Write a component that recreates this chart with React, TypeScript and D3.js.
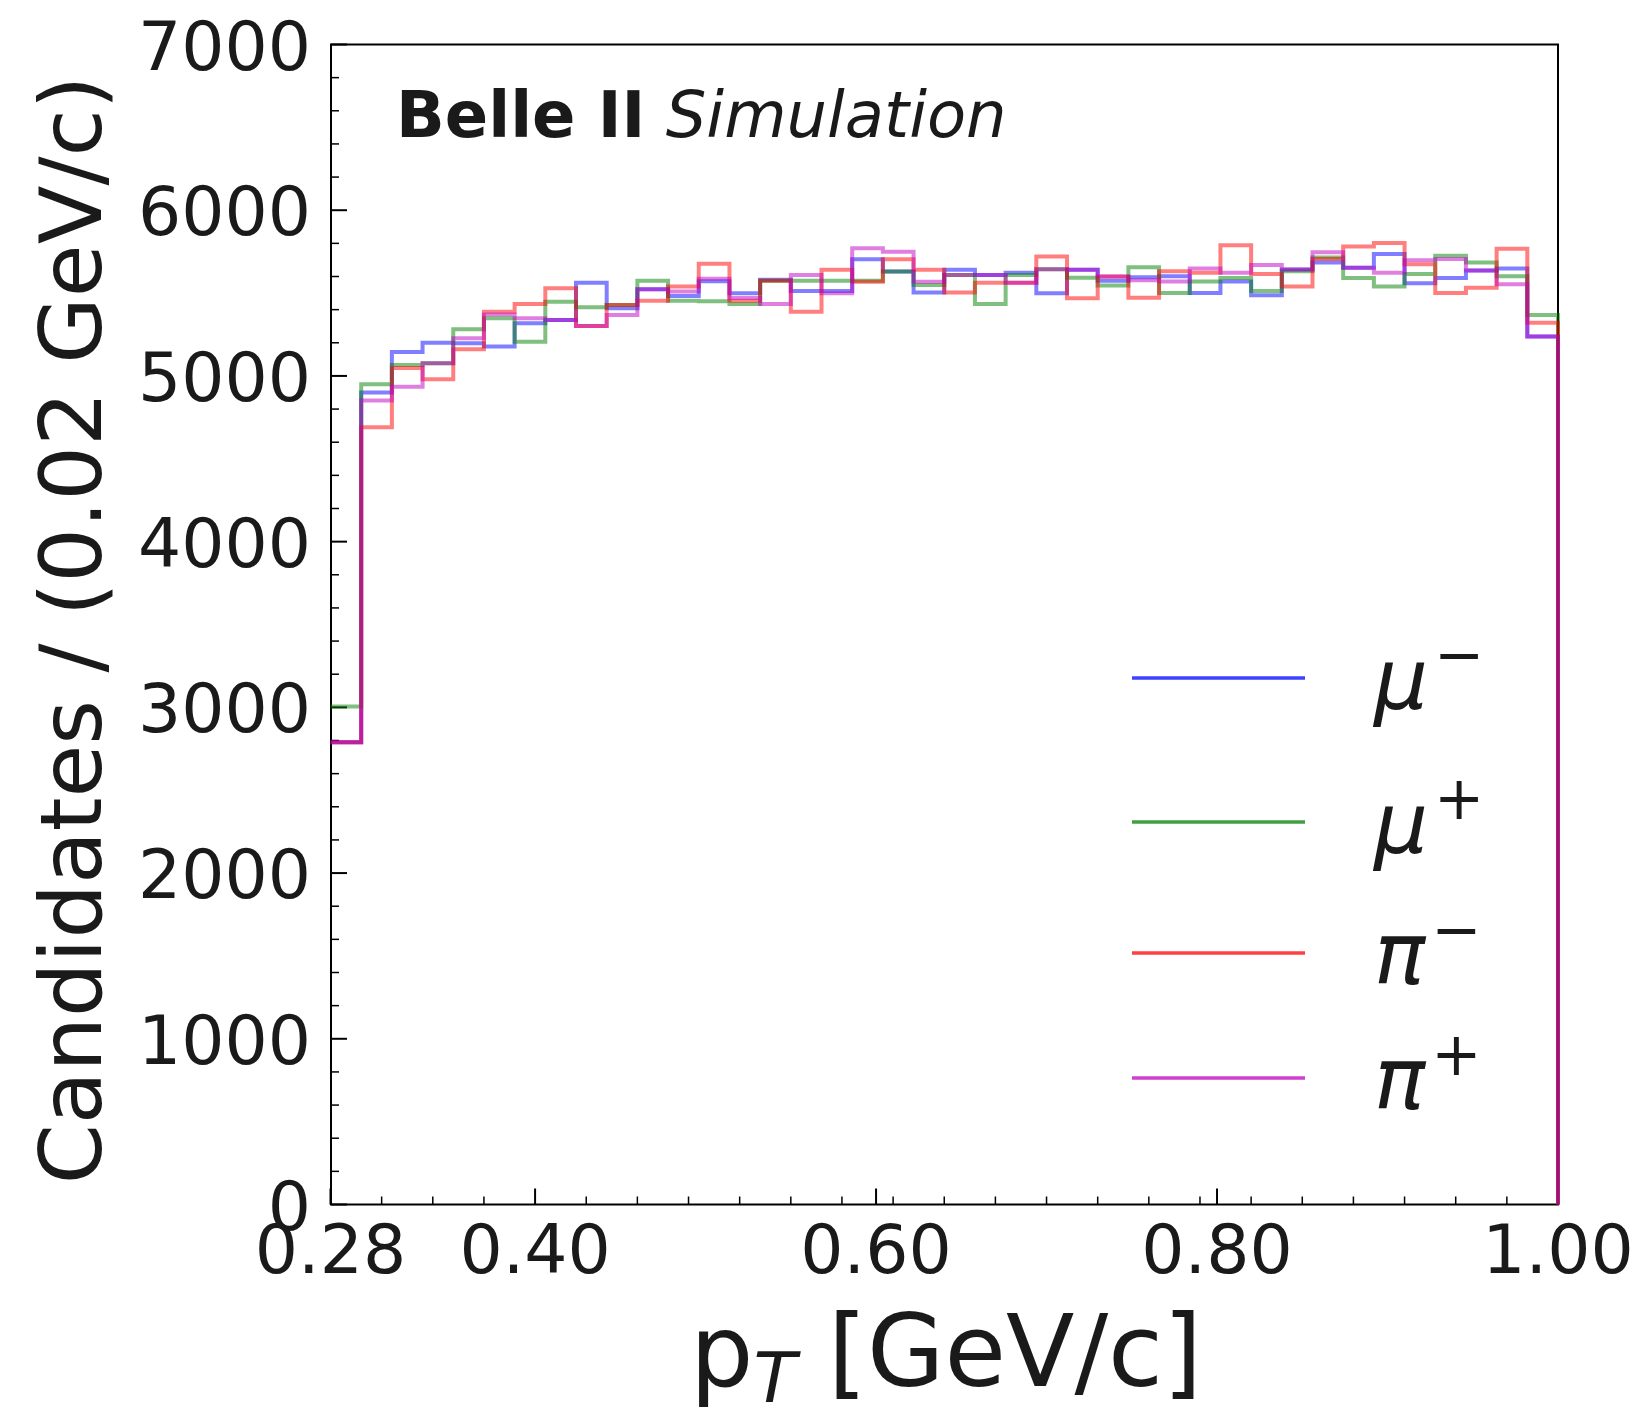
import React from "react";
import * as d3 from "d3";

// ---------- data ----------
const BIN_LOW = 0.28;
const BIN_WIDTH = 0.018;
const X_MAX = 1.0;

const X_TICKS = [0.28, 0.4, 0.6, 0.8, 1.0];
const X_TICK_LABELS = ["0.28", "0.40", "0.60", "0.80", "1.00"];
const X_MINOR_STEP = 0.03;
const Y_TICKS = [0, 1000, 2000, 3000, 4000, 5000, 6000, 7000];
const Y_MINOR_STEP = 200;

const muMinus = [2790, 4900, 5145, 5200, 5197, 5177, 5318, 5338, 5563, 5408, 5523, 5483, 5571, 5499, 5580, 5513, 5513, 5704, 5630, 5503, 5640, 5609, 5623, 5499, 5640, 5575, 5595, 5601, 5501, 5570, 5487, 5642, 5684, 5653, 5736, 5559, 5591, 5636, 5649, 5238];
const muPlus = [3005, 4950, 5066, 5076, 5281, 5348, 5207, 5448, 5414, 5428, 5575, 5454, 5451, 5434, 5575, 5575, 5575, 5575, 5630, 5549, 5609, 5434, 5609, 5644, 5593, 5545, 5656, 5501, 5570, 5591, 5512, 5632, 5715, 5591, 5539, 5615, 5725, 5684, 5601, 5367];
const piMinus = [2790, 4690, 5048, 4980, 5161, 5388, 5434, 5529, 5302, 5428, 5454, 5539, 5677, 5454, 5575, 5388, 5640, 5569, 5704, 5640, 5503, 5563, 5563, 5720, 5469, 5600, 5472, 5632, 5622, 5788, 5615, 5539, 5705, 5781, 5802, 5674, 5501, 5532, 5767, 5321];
const piPlus = [2790, 4851, 4935, 5076, 5227, 5370, 5348, 5338, 5302, 5368, 5523, 5509, 5586, 5470, 5434, 5609, 5499, 5770, 5750, 5569, 5609, 5609, 5563, 5644, 5640, 5600, 5577, 5570, 5649, 5622, 5669, 5642, 5746, 5653, 5622, 5698, 5705, 5636, 5553, 5238];

const SERIES_NAMES = ["μ", "μ", "π", "π"];
const SERIES_SIGNS = ["−", "+", "−", "+"];
const SERIES_COLORS = ["#0000ff", "#008000", "#ff0000", "#bf00bf"];
const SERIES_VALUES = [muMinus, muPlus, piMinus, piPlus];

// ---------- layout ----------
const W = 1639;
const H = 1409;
const M = { left: 331, right: 1558, top: 44.5, bottom: 1204.5 };
const FONT = "'DejaVu Sans', sans-serif";
const LEGEND_ROWS = [678, 822, 953, 1078];

export default function App() {
  const x = d3.scaleLinear().domain([BIN_LOW, X_MAX]).range([M.left - 0.5, M.right]);
  const y = d3.scaleLinear().domain([0, 7000]).range([M.bottom, M.top]);

  const xMinor = d3.range(BIN_LOW, X_MAX + 1e-9, X_MINOR_STEP).filter(
    (v) => !X_TICKS.some((t) => Math.abs(t - v) < 1e-6)
  );
  const yMinor = d3.range(0, 7000, Y_MINOR_STEP).filter((v) => v % 1000 !== 0);

  const stepPath = (vals: number[]) => {
    const pts: [number, number][] = vals.map((v, i) => [BIN_LOW + i * BIN_WIDTH, v]);
    pts.push([X_MAX, vals[vals.length - 1]]);
    pts.push([X_MAX, 0]);
    const line = d3
      .line<[number, number]>()
      .x((d) => x(d[0]))
      .y((d) => y(d[1]))
      .curve(d3.curveStepAfter);
    return line(pts) || "";
  };

  return (
    <div style={{ position: "absolute", left: 0, top: 0 }}>
      <svg width={W} height={H} style={{ display: "block", background: "#fff" }}>
        <rect x={0} y={0} width={W} height={H} fill="#fff" />
        {/* frame */}
        <rect
          x={M.left}
          y={M.top}
          width={M.right - M.left}
          height={M.bottom - M.top}
          fill="none"
          stroke="#000"
          strokeWidth={2}
        />
        {/* y ticks */}
        {Y_TICKS.map((t) => (
          <g key={"yt" + t}>
            <line x1={M.left} x2={M.left + 16} y1={y(t)} y2={y(t)} stroke="#000" strokeWidth={2} />
            <text
              x={311}
              y={y(t) + 25}
              textAnchor="end"
              fontFamily={FONT}
              fontSize={68}
              fill="#1a1a1a"
            >
              {t}
            </text>
          </g>
        ))}
        {yMinor.map((t) => (
          <line key={"ym" + t} x1={M.left} x2={M.left + 8} y1={y(t)} y2={y(t)} stroke="#000" strokeWidth={1.5} />
        ))}
        {/* x ticks */}
        {X_TICKS.map((t, i) => (
          <g key={"xt" + t}>
            <line x1={x(t)} x2={x(t)} y1={M.bottom} y2={M.bottom - 16} stroke="#000" strokeWidth={2} />
            <text
              x={x(t)}
              y={1273}
              textAnchor="middle"
              fontFamily={FONT}
              fontSize={68}
              fill="#1a1a1a"
            >
              {X_TICK_LABELS[i]}
            </text>
          </g>
        ))}
        {xMinor.map((t) => (
          <line key={"xm" + t} x1={x(t)} x2={x(t)} y1={M.bottom} y2={M.bottom - 8} stroke="#000" strokeWidth={1.5} />
        ))}

        {/* histograms */}
        {SERIES_VALUES.map((vals, i) => (
          <path
            key={"h" + i}
            d={stepPath(vals)}
            fill="none"
            stroke={SERIES_COLORS[i]}
            strokeOpacity={0.5}
            strokeWidth={4}
            strokeLinejoin="miter"
          />
        ))}

        {/* Belle II label */}
        <text x={396} y={137} fontFamily={FONT} fontSize={64} fill="#1a1a1a">
          <tspan fontWeight="bold">Belle II</tspan>
          <tspan fontStyle="italic"> Simulation</tspan>
        </text>

        {/* legend */}
        {SERIES_NAMES.map((nm, i) => (
          <g key={"lg" + i}>
            <line
              x1={1132}
              x2={1305}
              y1={LEGEND_ROWS[i]}
              y2={LEGEND_ROWS[i]}
              stroke={SERIES_COLORS[i]}
              strokeOpacity={0.75}
              strokeWidth={3.5}
            />
            <text x={1374} y={LEGEND_ROWS[i] + 31} fontFamily={FONT} fontSize={85} fill="#1a1a1a">
              <tspan fontStyle="italic">{nm}</tspan>
              <tspan dx={6} dy={-34} fontSize={60}>
                {SERIES_SIGNS[i]}
              </tspan>
            </text>
          </g>
        ))}

        {/* axis labels */}
        <text
          x={946}
          y={1386}
          textAnchor="middle"
          fontFamily={FONT}
          fontSize={100}
          fill="#1a1a1a"
        >
          p
          <tspan fontStyle="italic" fontSize={70} dy={16}>
            T
          </tspan>
          <tspan dy={-16}> [GeV/c]</tspan>
        </text>
        <text
          transform={`translate(101, 630) rotate(-90)`}
          textAnchor="middle"
          fontFamily={FONT}
          fontSize={86}
          fill="#1a1a1a"
        >
          Candidates / (0.02 GeV/c)
        </text>
      </svg>
    </div>
  );
}
